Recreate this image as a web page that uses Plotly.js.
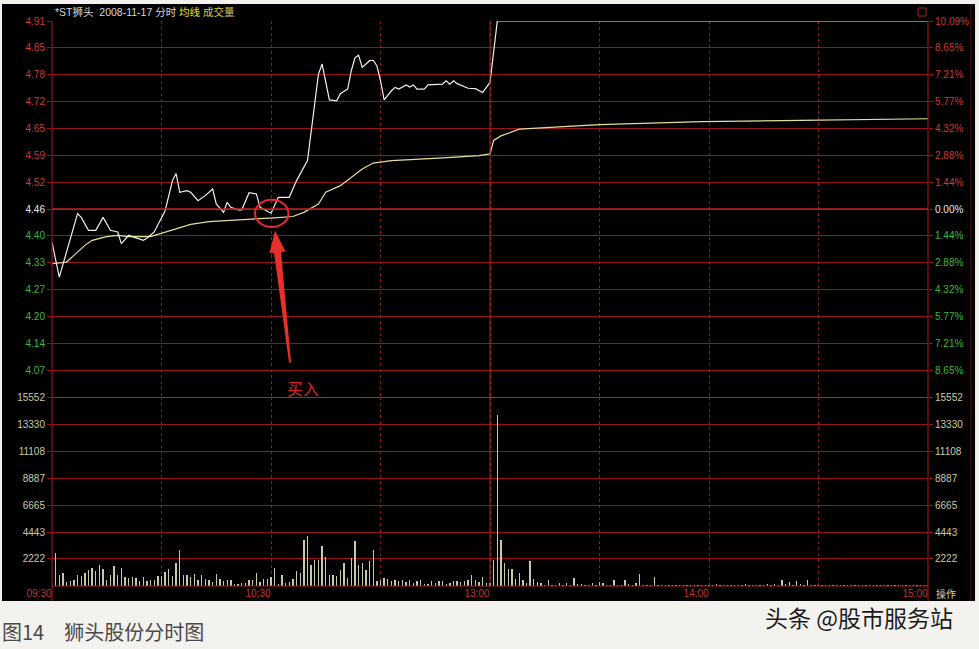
<!DOCTYPE html>
<html><head><meta charset="utf-8">
<script src="https://cdn.plot.ly/plotly-3.0.1.min.js"></script>
<style>html,body{margin:0;padding:0;background:#f4f2ee;}#chart{width:979px;height:649px;}</style>
</head><body><div id="chart"></div>
<script>
// ---- data ----
const prevClose = 4.46;
const priceMin = [0,2,7,8,10,12,14,16,18,19,21,22,25,26,28,31,33,34,35,37,38,40,42,44,45,47,48,49,51,52,54,56,57,60,62,65,67,70,72,73,74,75,76,78,79,81,82,83,84,85,87,88,89,90,91,93,94,95,97,98,99,100,102,103,107,108,109,110,111,114,116,118,119,120,122,240];
const priceVal = [4.380,4.297,4.449,4.440,4.409,4.409,4.440,4.409,4.405,4.377,4.397,4.394,4.385,4.390,4.405,4.456,4.528,4.545,4.500,4.504,4.500,4.480,4.492,4.508,4.472,4.452,4.476,4.464,4.458,4.458,4.499,4.496,4.464,4.450,4.488,4.488,4.528,4.576,4.719,4.783,4.807,4.767,4.721,4.719,4.736,4.747,4.791,4.822,4.828,4.799,4.815,4.816,4.803,4.767,4.721,4.743,4.751,4.747,4.757,4.752,4.757,4.747,4.747,4.757,4.759,4.767,4.759,4.767,4.760,4.749,4.748,4.739,4.751,4.763,4.91,4.91];
const avgMin = [0,4,6,9,11,15,18,21,27,30,34,38,43,52,61,66,69,73,75,79,85,88,93,106,117,120,121,123,128,150,178,205,238,240];
const avgVal = [4.329,4.333,4.349,4.373,4.385,4.394,4.397,4.394,4.394,4.402,4.413,4.423,4.430,4.434,4.439,4.442,4.452,4.472,4.500,4.516,4.556,4.570,4.576,4.582,4.588,4.592,4.624,4.635,4.651,4.662,4.669,4.672,4.676,4.676];
// volume per minute, minutes 1..240
const volVal = [
2750,880,1100,330,390,530,880,820,1070,1350,
1480,1230,1760,1370,530,880,1620,940,1510,740,
690,740,630,390,740,390,530,470,800,800,
1150,1430,800,1890,2940,940,880,700,1020,530,
940,600,470,330,1020,600,390,470,470,190,
190,250,250,470,530,1100,330,560,600,740,
1480,190,880,250,330,600,1200,1100,3820,4090,
1760,2170,2170,3270,2390,880,880,800,1290,1890,
690,2300,3680,1760,1920,1290,2030,2940,390,530,
690,600,390,530,390,470,330,530,280,390,
530,190,190,390,280,390,390,190,280,390,
390,330,390,470,880,530,330,740,250,250,
2110,14050,3820,1890,1430,1430,610,1100,470,250,
2030,610,330,250,110,470,110,110,250,110,
250,110,660,190,190,110,110,250,110,330,
250,110,110,470,110,80,530,190,110,250,
960,80,80,80,740,80,110,60,80,110,
60,80,110,80,60,110,80,80,110,60,
80,160,80,60,110,80,60,110,80,160,
80,110,60,80,110,160,80,190,110,470,
160,330,110,420,160,110,500,80,110,60,
80,110,80,60,110,80,60,80,110,80,
60,80,110,60,80,110,80,60,80,110,
80,60,110,80,60,80,110,80,60,80];
const volMin = volVal.map((v,i)=>i+1);

const timeTickVals = [0,60,120,180,240];
const timeTickText = ['09:30','10:30','13:00','14:00','15:00'];
const priceTickVals = [4.074286,4.138571,4.202857,4.267143,4.331429,4.395714,4.46,4.524286,4.588571,4.652857,4.717143,4.781429,4.845714,4.91];
const priceTickText = ['4.07','4.14','4.20','4.27','4.33','4.40','4.46','4.52','4.59','4.65','4.72','4.78','4.85','4.91'];
const pctTickText = ['8.65%','7.21%','5.77%','4.32%','2.88%','1.44%','0.00%','1.44%','2.88%','4.32%','5.77%','7.21%','8.65%','10.09%'];
const volTickVals = [2222,4443,6665,8887,11108,13330,15552];
const volTickText = ['2222','4443','6665','8887','11108','13330','15552'];

// ---- styling ----
const UP='#cc3a3a', DOWN='#3cb83c', FLAT='#e6e6e6', VOLC='#c9c9a6';
const gridRed='#9a1616', borderRed='#a81c1c';
function colorTick(t,i){
  const v=priceTickVals[i];
  const c = Math.abs(v-prevClose)<1e-6 ? FLAT : (v>prevClose ? UP : DOWN);
  return '<span style="color:'+c+'">'+t+'</span>';
}
const priceRange=[4.01,4.91];
const splitY=0.3345;

const traces=[
  {x:volMin,y:volVal,type:'bar',xaxis:'x',yaxis:'y2',width:0.38,marker:{color:VOLC,line:{width:0}},hoverinfo:'skip'},
  {x:avgMin,y:avgVal,type:'scatter',mode:'lines',xaxis:'x',yaxis:'y',line:{color:'#e6dd9a',width:1.2},hoverinfo:'skip'},
  {x:priceMin,y:priceVal,type:'scatter',mode:'lines',xaxis:'x',yaxis:'y',line:{color:'#eeeeee',width:1.2},hoverinfo:'skip'},
  {x:[0],y:[prevClose],type:'scatter',mode:'markers',xaxis:'x',yaxis:'y3',marker:{size:1,opacity:0},hoverinfo:'skip'},
  {x:[0],y:[0],type:'scatter',mode:'markers',xaxis:'x',yaxis:'y4',marker:{size:1,opacity:0},hoverinfo:'skip'}
];

const tickFont={family:'Liberation Sans, Arial, sans-serif',size:10};
const layout={
  width:979,height:649,
  margin:{l:52,r:51,t:21,b:63},
  paper_bgcolor:'#f4f2ee',plot_bgcolor:'#000000',
  showlegend:false,hovermode:false,bargap:0,
  font:{family:'Liberation Sans, Arial, sans-serif',size:10},
  xaxis:{domain:[0,1],range:[0,240],anchor:'y2',tickmode:'array',tickvals:timeTickVals,ticktext:timeTickText,
    ticks:'',showgrid:true,gridcolor:gridRed,griddash:'dot',gridwidth:1,zeroline:false,showline:false,
    tickfont:Object.assign({},tickFont,{color:'#c83030'}),ticklabelshift:-13,
    minor:{tick0:0,dtick:30,showgrid:true,gridcolor:gridRed,griddash:'dot',gridwidth:1,ticks:''}},
  yaxis:{domain:[splitY,1],range:priceRange,tickmode:'array',tickvals:priceTickVals,ticktext:priceTickText.map(colorTick),
    ticks:'outside',ticklen:4,tickcolor:gridRed,showgrid:true,gridcolor:gridRed,gridwidth:1,zeroline:false,showline:false,
    tickfont:Object.assign({},tickFont,{color:UP}),anchor:'x'},
  yaxis3:{overlaying:'y',side:'right',anchor:'x',range:priceRange,tickmode:'array',tickvals:priceTickVals,ticktext:pctTickText.map(colorTick),
    ticks:'outside',ticklen:4,tickcolor:gridRed,showgrid:false,zeroline:false,showline:false,
    tickfont:Object.assign({},tickFont,{color:UP})},
  yaxis2:{domain:[0,splitY],range:[0,15552],tickmode:'array',tickvals:volTickVals,ticktext:volTickText,
    ticks:'outside',ticklen:4,tickcolor:gridRed,showgrid:true,gridcolor:gridRed,gridwidth:1,zeroline:false,showline:false,
    tickfont:Object.assign({},tickFont,{color:VOLC}),anchor:'x'},
  yaxis4:{overlaying:'y2',side:'right',anchor:'x',range:[0,15552],tickmode:'array',tickvals:volTickVals,ticktext:volTickText,
    ticks:'outside',ticklen:4,tickcolor:gridRed,showgrid:false,zeroline:false,showline:false,
    tickfont:Object.assign({},tickFont,{color:VOLC})},
  shapes:[
    {type:'rect',xref:'paper',yref:'paper',x0:-0.0571,x1:1.0537,y0:-0.0265,y1:1.0301,fillcolor:'#000000',line:{width:0},layer:'below'},
    {type:'line',xref:'paper',yref:'paper',x0:0,x1:0,y0:-0.0265,y1:1,line:{color:borderRed,width:1}},
    {type:'line',xref:'paper',yref:'paper',x0:1,x1:1,y0:-0.0265,y1:1,line:{color:borderRed,width:1}},
    {type:'line',xref:'paper',yref:'paper',x0:0,x1:1,y0:0,y1:0,line:{color:borderRed,width:1}},
    {type:'line',xref:'x',yref:'paper',x0:120,x1:120,y0:0,y1:1,line:{color:'#b41e1e',width:1}},
    {type:'line',xref:'paper',yref:'y',x0:0,x1:1,y0:prevClose,y1:prevClose,line:{color:'#c21e1e',width:1.6}},
    {type:'line',xref:'paper',yref:'y2',x0:0,x1:1,y0:15552,y1:15552,line:{color:'#c21e1e',width:2}},
    {type:'line',xref:'paper',yref:'paper',x0:1.049,x1:1.049,y0:-0.0265,y1:1.03,line:{color:'#5a1010',width:1}},
    {type:'rect',xref:'paper',yref:'paper',x0:0.9886,x1:0.9977,y0:1.0088,y1:1.023,line:{color:'#b02020',width:1}},
    {type:'circle',xref:'x',yref:'y',xsizemode:'pixel',ysizemode:'pixel',xanchor:60.2,yanchor:4.4495,
      x0:-16.7,x1:16.7,y0:-13.7,y1:13.7,line:{color:'#e42a2a',width:2}},
    {type:'path',xref:'x',yref:'y',xsizemode:'pixel',ysizemode:'pixel',xanchor:60.2,yanchor:4.4495,
      path:'M 3.3,-17 L 13.8,-38 L 9.3,-38.5 L 19.3,-149 L 17.3,-149 L 2.3,-39.3 L -2.2,-39.8 Z',
      fillcolor:'#e8302a',line:{width:0}}
  ],
  annotations:[
    {xref:'paper',yref:'paper',x:0.001,y:1.016,xanchor:'left',yanchor:'middle',showarrow:false,
      font:{family:'Liberation Sans, Noto Sans CJK SC, sans-serif',size:10.5,color:'#d8d8d8'},
      text:'*ST狮头  2008-11-17 分时 <span style="color:#e8e21a">均线</span> <span style="color:#d8c858">成交量</span>'},
    {xref:'x',yref:'y',x:68.8,y:4.0316,xanchor:'center',yanchor:'middle',showarrow:false,
      font:{family:'Noto Sans CJK SC, sans-serif',size:16,color:'#d42a2a'},text:'买入'},
    {xref:'paper',yref:'paper',x:1.0205,y:-0.0124,xanchor:'center',yanchor:'middle',showarrow:false,
      font:{family:'Noto Sans CJK SC, sans-serif',size:10,color:'#d0d0d0'},text:'操作'},
    {xref:'paper',yref:'paper',x:-0.0594,y:-0.0814,xanchor:'left',yanchor:'middle',showarrow:false,
      font:{family:'Noto Sans CJK SC, sans-serif',size:20,color:'#4a4a4a'},text:'图14　狮头股份分时图'},
    {xref:'paper',yref:'paper',x:0.9207,y:-0.0549,xanchor:'center',yanchor:'middle',showarrow:false,
      font:{family:'Noto Sans CJK SC, sans-serif',size:23,color:'#1c1c1c'},text:'头条 @股市服务站'}
  ]
};
Plotly.newPlot('chart',traces,layout,{displayModeBar:false,staticPlot:true});
</script></body></html>
